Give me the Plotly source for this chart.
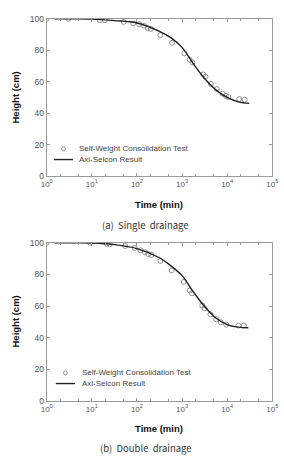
import plotly.graph_objects as go

# ---- data ----
test_a_time = [1, 3, 15, 19.5, 51, 83, 112, 145, 174, 204, 331, 603, 1122, 1479, 1698, 2951, 3311, 4365, 5888, 7943, 9333, 10715, 18621, 24547]
test_a_height = [100, 100, 99, 99, 98, 97, 96.5, 95.5, 94, 93.5, 89.6, 84.7, 78, 74, 72.2, 64.6, 63.2, 58.6, 55.3, 52.4, 51, 50.3, 49, 48.6]
model_a_time = [1.5, 3, 10, 31.6, 100, 316, 562, 1000, 1778, 3162, 5623, 10000, 17783, 31000]
model_a_height = [100, 99.9, 99.7, 98.8, 97.3, 92, 88, 81.8, 71.4, 62, 54.8, 50, 47.2, 46.2]

test_b_time = [1, 9.1, 21.4, 25.1, 55, 89, 120, 151, 178, 209, 331, 589, 1096, 1479, 1660, 2818, 3162, 4266, 5754, 7244, 9550, 17783, 23442]
test_b_height = [100, 100, 99.3, 99, 97.9, 96.7, 95.2, 94, 92.8, 92.2, 88.5, 82.5, 75.3, 69.8, 68.1, 60.3, 58.6, 54.7, 51.7, 49.8, 48.3, 47.7, 47.7]
model_b_time = [1.5, 3, 10, 31.6, 100, 316, 562, 1000, 1778, 3162, 5623, 10000, 17783, 29500]
model_b_height = [100, 99.9, 99.8, 98.8, 96.3, 90.5, 85.5, 79.2, 69, 59.7, 52.5, 48.3, 46.7, 46.3]

series_names = ["Self-Weight Consolidation Test", "Axi-Selcon Result"]
tick_vals = [1, 10, 100, 1000, 10000, 100000]
tick_text = ["10<sup>0</sup>", "10<sup>1</sup>", "10<sup>2</sup>", "10<sup>3</sup>", "10<sup>4</sup>", "10<sup>5</sup>"]
y_ticks = [0, 20, 40, 60, 80, 100]

W, H = 284, 458
font = "Liberation Sans, Arial, sans-serif"
axis_col = "#9a9a9a"
tick_col = "#555555"
marker_col = "#7a7a7a"
line_col = "#222222"

fig = go.Figure()

def add_panel(tt, th, mt, mh, xa, ya):
    fig.add_trace(go.Scatter(x=tt, y=th, mode="markers", name=series_names[0], showlegend=False,
                             marker=dict(symbol="circle-open", size=5, color=marker_col, line=dict(width=0.8)),
                             xaxis=xa, yaxis=ya))
    fig.add_trace(go.Scatter(x=mt, y=mh, mode="lines", name=series_names[1], showlegend=False,
                             line=dict(color=line_col, width=1.4, shape="spline", smoothing=1.0),
                             xaxis=xa, yaxis=ya))

add_panel(test_a_time, test_a_height, model_a_time, model_a_height, "x", "y")
add_panel(test_b_time, test_b_height, model_b_time, model_b_height, "x2", "y2")

xdom = [42.5 / W, 278 / W]
ydom_a = [1 - 175 / H, 1 - 14 / H]
ydom_b = [1 - 405 / H, 1 - 243 / H]

xcommon = dict(type="log", range=[0, 5], tickvals=tick_vals, ticktext=tick_text,
               showline=True, linecolor=axis_col, linewidth=1, mirror="ticks",
               ticks="inside", ticklen=3, tickcolor=axis_col, showgrid=False, zeroline=False,
               tickfont=dict(size=8, color=tick_col, family=font), ticklabeloverflow="allow",
               minor=dict(ticks="inside", ticklen=2, tickcolor=axis_col, showgrid=False),
               domain=xdom)
ycommon = dict(range=[0, 100], tickvals=y_ticks, showline=True, linecolor=axis_col, linewidth=1,
               mirror="ticks", ticks="inside", ticklen=3, tickcolor=axis_col, showgrid=False,
               zeroline=False, tickfont=dict(size=8.5, color=tick_col, family=font))

fig.update_layout(
    width=W, height=H, margin=dict(l=0, r=0, t=0, b=0),
    paper_bgcolor="white", plot_bgcolor="white",
    font=dict(family=font, color="#333333"),
    xaxis=dict(**xcommon, anchor="y"),
    yaxis=dict(**ycommon, domain=ydom_a, anchor="x"),
    xaxis2=dict(**xcommon, anchor="y2"),
    yaxis2=dict(**ycommon, domain=ydom_b, anchor="x2"),
    showlegend=False,
)

ann = []
shapes = []

def note(text, x, y, size, color, family=font, xanchor="center", angle=0):
    ann.append(dict(text=text, x=x / W, y=1 - y / H, xref="paper", yref="paper",
                    xanchor=xanchor, yanchor="middle", textangle=angle, showarrow=False,
                    font=dict(size=size, color=color, family=family)))

for yc in [95, 324]:
    note("<b>Height (cm)</b>", 10, yc, 9.5, "#111111", angle=-90)
for yc in [204, 433]:
    note("<b>Time (min)</b>", 160, yc, 9.5, "#111111")
for yc, cap in [(225, "(a)  Single  drainage"), (453, "(b)  Double  drainage")]:
    note(cap, 146, yc, 9.5, "#333333", family="Noto Sans CJK KR, Noto Sans, sans-serif")

# manual legends (marker, line sample, labels)
for mx, my, lx0, lx1, ly, tx in [(60, 147, 50, 70, 158, 74), (62, 376, 52, 72, 387, 77)]:
    shapes.append(dict(type="circle", xref="paper", yref="paper",
                       x0=(mx - 2) / W, x1=(mx + 2) / W, y0=1 - (my + 2) / H, y1=1 - (my - 2) / H,
                       line=dict(color=marker_col, width=0.8)))
    shapes.append(dict(type="line", xref="paper", yref="paper",
                       x0=lx0 / W, x1=lx1 / W, y0=1 - ly / H, y1=1 - ly / H,
                       line=dict(color=line_col, width=1.4)))
    note(series_names[0], tx, my, 8, "#444444", xanchor="left")
    note(series_names[1], tx, ly, 8, "#444444", xanchor="left")

fig.update_layout(annotations=ann, shapes=shapes)

fig.write_html("out.html")
